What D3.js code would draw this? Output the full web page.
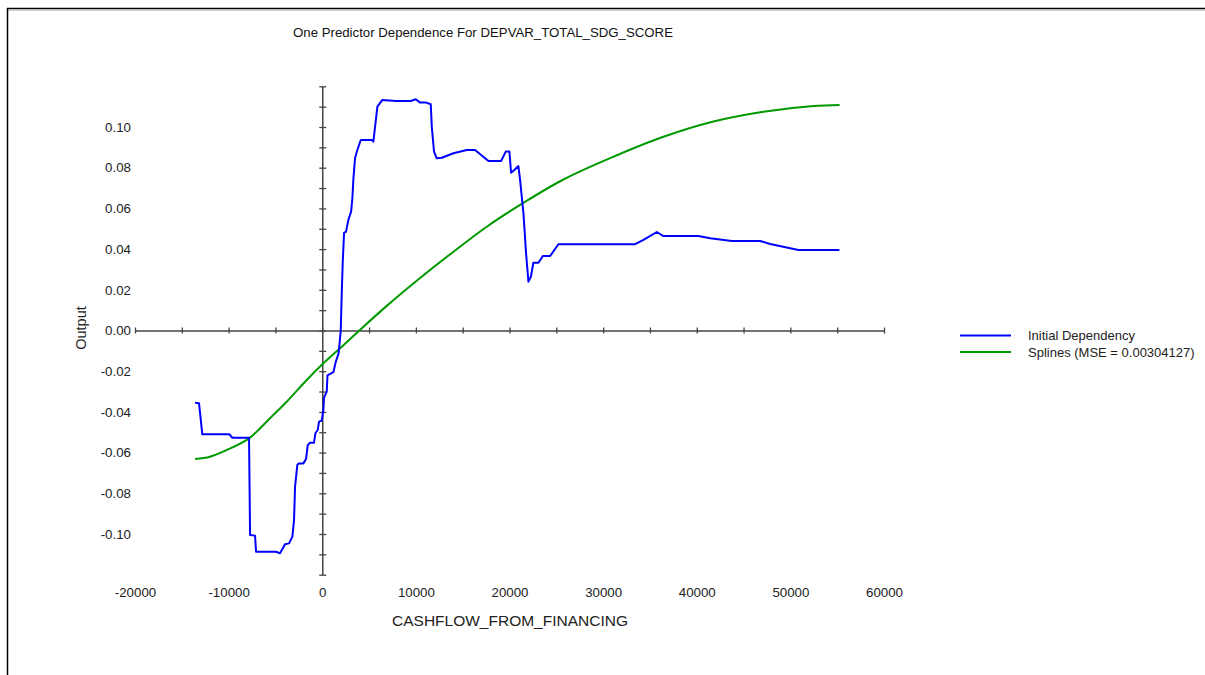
<!DOCTYPE html>
<html>
<head>
<meta charset="utf-8">
<script src="https://cdn.jsdelivr.net/npm/d3@7"></script>
<style>
  html, body { margin: 0; padding: 0; background: #fff; }
  svg { display: block; font-family: "Liberation Sans", Arial, sans-serif; }
</style>
</head>
<body>
<svg id="chart" width="1205" height="675"></svg>
<script>
// ---- data ----
const chartTitle = "One Predictor Dependence For DEPVAR_TOTAL_SDG_SCORE";
const xTitle = "CASHFLOW_FROM_FINANCING";
const yTitle = "Output";
const seriesNames = ["Initial Dependency", "Splines (MSE = 0.00304127)"];

const xTickLabels = [-20000, -10000, 0, 10000, 20000, 30000, 40000, 50000, 60000];
const yTickLabels = [-0.10, -0.08, -0.06, -0.04, -0.02, 0.00, 0.02, 0.04, 0.06, 0.08, 0.10];

// Initial Dependency (blue)
const initX = [-13590, -13160, -12810, -9925, -9600, -7820, -7710, -7180, -7070, -4935, -4510, -3974, -3547, -3190, -3013, -2906, -2660, -2479, -2016, -1730, -1550, -1300, -876, -733, -484, -342, -55, 120, 190, 480, 560, 1190, 1450, 1750, 1975, 2080, 2190, 2330, 2540, 2790, 3080, 3220, 3320, 3500, 3750, 4110, 5290, 5460, 5640, 5890, 6420, 7880, 9450, 9990, 10450, 11090, 11590, 11700, 11940, 12230, 12770, 14010, 15440, 16320, 17750, 19100, 19600, 19990, 20170, 20520, 20950, 21130, 21490, 21770, 22020, 22280, 22550, 23090, 23560, 24340, 25220, 33420, 34310, 35740, 36440, 40180, 41430, 43750, 46770, 47840, 50870, 55240];
const initY = [-0.0355, -0.0358, -0.051, -0.051, -0.0527, -0.0527, -0.1005, -0.1008, -0.1087, -0.1087, -0.1095, -0.105, -0.1046, -0.1013, -0.0931, -0.0768, -0.066, -0.0653, -0.0653, -0.0631, -0.0563, -0.0551, -0.0551, -0.0505, -0.0489, -0.0448, -0.0443, -0.039, -0.033, -0.030, -0.022, -0.0205, -0.0153, -0.0112, 0.0, 0.0183, 0.0338, 0.048, 0.0486, 0.0543, 0.0584, 0.065, 0.074, 0.0846, 0.0887, 0.0936, 0.0936, 0.0928, 0.1001, 0.110, 0.1133, 0.1128, 0.1128, 0.1136, 0.112, 0.112, 0.1112, 0.1001, 0.0879, 0.0846, 0.0849, 0.0871, 0.0887, 0.0887, 0.0833, 0.0833, 0.0879, 0.0879, 0.0775, 0.0789, 0.0808, 0.074, 0.0576, 0.0379, 0.024, 0.0264, 0.0333, 0.0333, 0.0366, 0.0366, 0.0424, 0.0424, 0.0445, 0.0484, 0.0464, 0.0464, 0.0453, 0.044, 0.044, 0.0425, 0.0396, 0.0396];

// Splines (green)
const splineX = [-13590, -11990, -10200, -7820, -5580, -3800, -1660, 120, 1900, 3960, 6890, 10450, 14010, 17570, 21130, 25760, 31100, 36440, 41790, 47130, 52470, 55250];
const splineY = [-0.0631, -0.062, -0.0587, -0.053, -0.0431, -0.035, -0.0243, -0.0161, -0.0087, 0.0, 0.0121, 0.0258, 0.0387, 0.051, 0.0617, 0.0742, 0.0854, 0.0952, 0.1027, 0.1075, 0.1103, 0.1108];

// ---- drawing ----
const svg = d3.select("#chart");
const x = d3.scaleLinear().domain([-20000, 60000]).range([135, 884]);
const y = d3.scaleLinear().domain([-0.12, 0.12]).range([574.7, 86.3]);
const axisColor = "#444";
const colors = ["#0000ff", "#009900"];

// window frame
svg.append("line").attr("x1", 7).attr("x2", 1205).attr("y1", 8.5).attr("y2", 8.5).attr("stroke", "#000").attr("stroke-width", 1.5);
svg.append("line").attr("x1", 7).attr("x2", 1205).attr("y1", 10.5).attr("y2", 10.5).attr("stroke", "#ccc").attr("stroke-width", 1);
svg.append("line").attr("x1", 7.5).attr("x2", 7.5).attr("y1", 8).attr("y2", 675).attr("stroke", "#000").attr("stroke-width", 1.5);

// title
svg.append("text").attr("x", 483).attr("y", 36.5).attr("text-anchor", "middle")
  .attr("font-size", 12.5).attr("fill", "#111")
  .attr("textLength", 380).attr("lengthAdjust", "spacingAndGlyphs")
  .text(chartTitle);

// x axis line with crossing ticks through y=0
const xAxisG = svg.append("g").attr("transform", `translate(0,${y(0)})`)
  .call(d3.axisBottom(x).tickValues(d3.range(-20000, 60001, 5000)).tickFormat("").tickSizeInner(3).tickSizeOuter(0));
xAxisG.select(".domain").attr("stroke", axisColor).attr("stroke-width", 1.5);
xAxisG.selectAll(".tick line").attr("y1", -3).attr("y2", 3).attr("stroke", axisColor).attr("stroke-width", 1.3);

// y axis line with crossing ticks through x=0
const yAxisG = svg.append("g").attr("transform", `translate(${x(0)},0)`)
  .call(d3.axisLeft(y).tickValues(d3.range(-12, 13, 1).map(v => v / 100)).tickFormat("").tickSizeInner(3).tickSizeOuter(0));
yAxisG.select(".domain").attr("stroke", axisColor).attr("stroke-width", 1.5);
yAxisG.selectAll(".tick line").attr("x1", -3).attr("x2", 4).attr("stroke", axisColor).attr("stroke-width", 1.3);

// x tick labels at bottom
const xLab = svg.append("g").attr("transform", "translate(0,587.5)")
  .call(d3.axisBottom(x).tickValues(xTickLabels).tickFormat(d => String(d)).tickSize(0).tickPadding(0));
xLab.select(".domain").remove();
xLab.selectAll("text").attr("font-size", 13.3).attr("fill", "#222").attr("dy", "0.71em")
  .attr("font-family", "Liberation Sans, Arial, sans-serif");

// y tick labels at left
const yLab = svg.append("g").attr("transform", "translate(131,0)")
  .call(d3.axisLeft(y).tickValues(yTickLabels).tickFormat(d => d.toFixed(2)).tickSize(0).tickPadding(0));
yLab.select(".domain").remove();
yLab.selectAll("text").attr("font-size", 13.3).attr("fill", "#222")
  .attr("font-family", "Liberation Sans, Arial, sans-serif");

// axis titles
svg.append("text").attr("x", 510).attr("y", 626).attr("text-anchor", "middle")
  .attr("font-size", 15.5).attr("fill", "#222").text(xTitle);
svg.append("text").attr("transform", "translate(86,328) rotate(-90)").attr("text-anchor", "middle")
  .attr("font-size", 14.5).attr("fill", "#222").text(yTitle);

// series
const initData = initX.map((v, i) => [v, initY[i]]);
const splineData = splineX.map((v, i) => [v, splineY[i]]);

svg.append("path").datum(splineData)
  .attr("d", d3.line().x(d => x(d[0])).y(d => y(d[1])).curve(d3.curveCatmullRom.alpha(0.5)))
  .attr("fill", "none").attr("stroke", colors[1]).attr("stroke-width", 2);
svg.append("path").datum(initData)
  .attr("d", d3.line().x(d => x(d[0])).y(d => y(d[1])))
  .attr("fill", "none").attr("stroke", colors[0]).attr("stroke-width", 2).attr("stroke-linejoin", "round");

// legend
const legend = svg.append("g");
seriesNames.forEach((name, i) => {
  const ly = 335.5 + i * 16.5;
  legend.append("line").attr("x1", 960).attr("x2", 1011).attr("y1", ly).attr("y2", ly)
    .attr("stroke", colors[i]).attr("stroke-width", 2);
  legend.append("text").attr("x", 1028).attr("y", ly).attr("dy", "0.35em")
    .attr("font-size", 13).attr("fill", "#222").text(name);
});
</script>
</body>
</html>
